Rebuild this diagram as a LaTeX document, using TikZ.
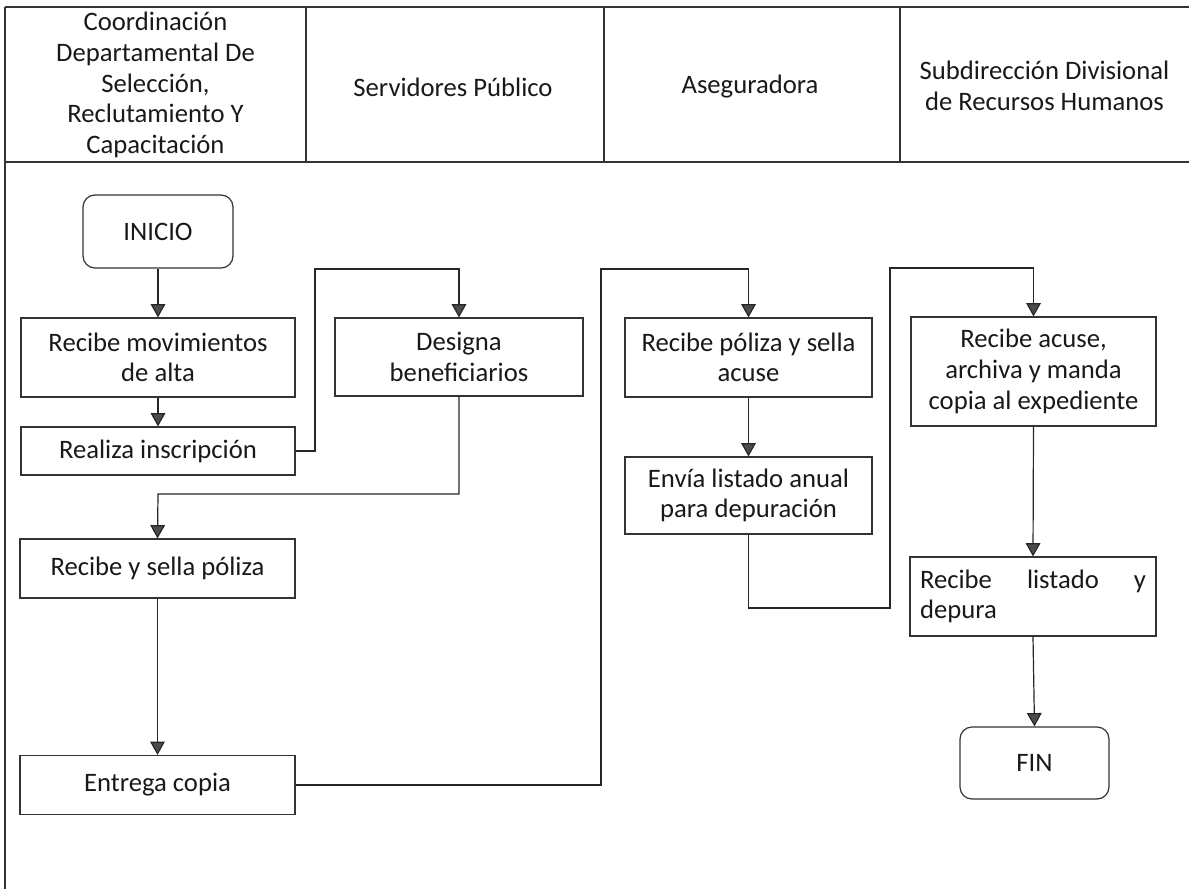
\documentclass[tikz,border=0pt]{standalone}
\usepackage{fontspec}
\setmainfont{Carlito}
\usetikzlibrary{arrows.meta}
\tikzset{
  every node/.style={font=\fontsize{20}{23}\selectfont, text=black!90},
  procbox/.style={draw=black!80, line width=0.9pt, inner sep=0pt, align=center},
  termbox/.style={draw=black!80, line width=0.9pt, inner sep=0pt, align=center, rounded corners=9pt},
  flowarrow/.style={draw=black!85, line width=0.9pt, -{Triangle[width=11pt,length=10pt,fill=black!70]}},
  grid/.style={draw=black!80, line width=0.9pt},
}
\begin{document}
\begin{tikzpicture}[x=0.75pt,y=-0.75pt]
\useasboundingbox (0,0) rectangle (1189,889);
% table frame
\draw[grid] (5,7) -- (1189,7);
\draw[grid] (5,162) -- (1189,162);
\draw[grid] (5,7) -- (5,889);
\draw[grid] (306,7) -- (306,162);
\draw[grid] (604,7) -- (604,162);
\draw[grid] (900,7) -- (900,162);
% headers
\node[align=center] (h1) at (155.5,85) {Coordinación\\Departamental De\\Selección,\\Reclutamiento Y\\Capacitación};
\node[align=center] (h2) at (453,87) {Servidores Público};
\node[align=center] (h3) at (750,87) {Aseguradora};
\node[align=center] (h4) at (1044.5,86) {Subdirección Divisional\\de Recursos Humanos};
% nodes
\node[termbox, minimum width={150*0.75pt}, minimum height={73*0.75pt}] (inicio) at (158,231.5) {INICIO};
\node[procbox, minimum width={274*0.75pt}, minimum height={79*0.75pt}] (recmov) at (158,357.5) {Recibe movimientos\\de alta};
\node[procbox, minimum width={274*0.75pt}, minimum height={48*0.75pt}] (realiza) at (158,451) {Realiza inscripción};
\node[procbox, minimum width={248*0.75pt}, minimum height={78*0.75pt}] (designa) at (459,357) {Designa\\beneficiarios};
\node[procbox, minimum width={275*0.75pt}, minimum height={59*0.75pt}] (recsella) at (157.5,568.5) {Recibe y sella póliza};
\node[procbox, minimum width={275*0.75pt}, minimum height={59*0.75pt}] (entrega) at (157.5,785) {Entrega copia};
\node[procbox, minimum width={247*0.75pt}, minimum height={79*0.75pt}] (recpol) at (748.5,357.5) {Recibe póliza y sella\\acuse};
\node[procbox, minimum width={247*0.75pt}, minimum height={77*0.75pt}] (envia) at (748.5,495.5) {Envía listado anual\\para depuración};
\node[procbox, minimum width={245*0.75pt}, minimum height={109*0.75pt}] (acuse) at (1033.5,371.5) {Recibe acuse,\\archiva y manda\\copia al expediente};
\node[procbox, minimum width={246*0.75pt}, minimum height={79*0.75pt}, text width={226*0.75pt}, inner xsep={10*0.75pt}, align=left] (listado) at (1033,596.5) {Recibe\hfill listado\hfill y\\depura};
\node[termbox, minimum width={149*0.75pt}, minimum height={72*0.75pt}] (fin) at (1034.5,763) {FIN};
% connectors
\coordinate (c3a) at (315,451);
\coordinate (c3b) at (315,269);
\coordinate (c3c) at (459,269);
\coordinate (c4a) at (459,494);
\coordinate (c4b) at (158,494);
\coordinate (c6a) at (601,785);
\coordinate (c6b) at (601,269);
\coordinate (c6c) at (748.5,269);
\coordinate (c8a) at (748.5,608);
\coordinate (c8b) at (890,608);
\coordinate (c8c) at (890,268);
\coordinate (c8d) at (1033.5,268);
\draw[flowarrow] (inicio.south) -- (recmov.north);
\draw[flowarrow] (recmov.south) -- (realiza.north);
\draw[flowarrow] (realiza.east) -- (c3a) -- (c3b) -- (c3c) -- (designa.north);
\draw[flowarrow] (designa.south) -- (c4a) -- (c4b) -- (recsella.north);
\draw[flowarrow] (recsella.south) -- (entrega.north);
\draw[flowarrow] (entrega.east) -- (c6a) -- (c6b) -- (c6c) -- (recpol.north);
\draw[flowarrow] (recpol.south) -- (envia.north);
\draw[flowarrow] (envia.south) -- (c8a) -- (c8b) -- (c8c) -- (c8d) -- (acuse.north);
\draw[flowarrow] (acuse.south) -- (listado.north);
\draw[flowarrow] (listado.south) -- (fin.north);
\end{tikzpicture}
\end{document}
